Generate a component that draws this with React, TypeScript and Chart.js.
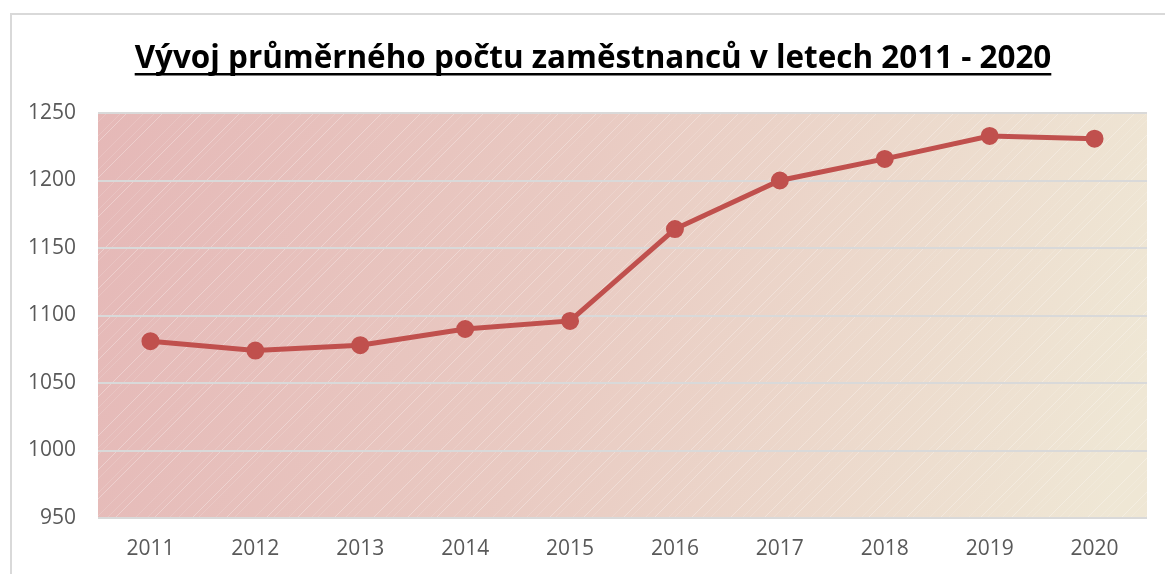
import React, { useEffect, useRef } from "react";
import { Chart, registerables } from "chart.js";

Chart.register(...registerables);

const titleText = "Vývoj průměrného počtu zaměstnanců v letech 2011 - 2020";
const years = ["2011", "2012", "2013", "2014", "2015", "2016", "2017", "2018", "2019", "2020"];
const employees = [1081, 1074, 1078, 1090, 1096, 1164, 1200, 1216, 1233, 1231];
const yMin = 950;
const yMax = 1250;
const yStep = 50;

const bgPlugin = {
  id: "bgPlugin",
  beforeDraw(chart: any) {
    const { ctx, chartArea } = chart;
    const { left, top, right, bottom } = chartArea;
    ctx.save();
    // outer frame
    ctx.strokeStyle = "#d9d9d9";
    ctx.lineWidth = 2;
    ctx.strokeRect(11, 14, chart.width + 20, chart.height + 20);
    // gradient
    const g = ctx.createLinearGradient(left, top, right, top + (bottom - top) * 0.6);
    g.addColorStop(0, "#e5b8b7");
    g.addColorStop(0.45, "#e9cac2");
    g.addColorStop(1, "#efe7d5");
    ctx.fillStyle = g;
    ctx.fillRect(left, top, right - left, bottom - top);
    // diagonal stripes
    ctx.beginPath();
    ctx.rect(left, top, right - left, bottom - top);
    ctx.clip();
    const h = bottom - top;
    const gaps = [9, 14, 6, 17, 11, 8, 20, 12, 7, 15];
    let x = left - h;
    let i = 0;
    ctx.lineWidth = 1;
    while (x < right) {
      ctx.strokeStyle = i % 3 === 0 ? "rgba(255,255,255,0.3)" : "rgba(255,255,255,0.15)";
      ctx.beginPath();
      ctx.moveTo(x, bottom);
      ctx.lineTo(x + h, top);
      ctx.stroke();
      x += gaps[i % gaps.length];
      i++;
    }
    ctx.restore();
  },
  afterDraw(chart: any) {
    const { ctx } = chart;
    ctx.save();
    const target = 917;
    ctx.font = "bold 30px 'Open Sans', 'Noto Sans', sans-serif";
    const w30 = ctx.measureText(titleText).width;
    const size = Math.min(34, (30 * target) / w30);
    ctx.font = `bold ${size}px 'Open Sans', 'Noto Sans', sans-serif`;
    const w = ctx.measureText(titleText).width;
    const cx = 593;
    ctx.fillStyle = "#000000";
    ctx.textAlign = "center";
    ctx.textBaseline = "alphabetic";
    ctx.fillText(titleText, cx, 68);
    ctx.fillRect(cx - w / 2, 73, w, 2.5);
    ctx.restore();
  },
};

const tickFont = { size: 21, family: "'Open Sans', 'Noto Sans', sans-serif" };

export default function App() {
  const ref = useRef<HTMLCanvasElement>(null);
  useEffect(() => {
    if (!ref.current) return;
    const chart = new Chart(ref.current, {
      type: "line",
      data: {
        labels: years,
        datasets: [
          {
            label: "Průměrný počet zaměstnanců",
            data: employees,
            borderColor: "#c0504d",
            backgroundColor: "#c0504d",
            borderWidth: 5,
            pointRadius: 6.5,
            pointHoverRadius: 6.5,
            pointBackgroundColor: "#c0504d",
            pointBorderColor: "#c0504d",
            tension: 0,
          },
        ],
      },
      options: {
        animation: false,
        responsive: false,
        layout: { padding: { top: 113, left: 10, right: 18, bottom: 0 } },
        plugins: { legend: { display: false }, tooltip: { enabled: false }, title: { display: false } },
        scales: {
          x: {
            offset: true,
            grid: { display: false, drawTicks: false },
            border: { display: false },
            ticks: { color: "#595959", font: tickFont, padding: 18 },
            afterFit(scale: any) {
              scale.height = 56;
            },
          },
          y: {
            min: yMin,
            max: yMax,
            grid: { color: "#d9d9d9", lineWidth: 2, drawTicks: false },
            border: { display: false },
            ticks: {
              stepSize: yStep,
              color: "#595959",
              font: tickFont,
              padding: 22,
              callback: (v: any) => String(v),
            },
            afterFit(scale: any) {
              scale.width = 88;
            },
          },
        },
      },
      plugins: [bgPlugin],
    });
    return () => chart.destroy();
  }, []);
  return (
    <div style={{ position: "fixed", left: 0, top: 0, width: 1165, height: 574, background: "#fff" }}>
      <canvas ref={ref} width={1165} height={574} style={{ width: 1165, height: 574 }} />
    </div>
  );
}
